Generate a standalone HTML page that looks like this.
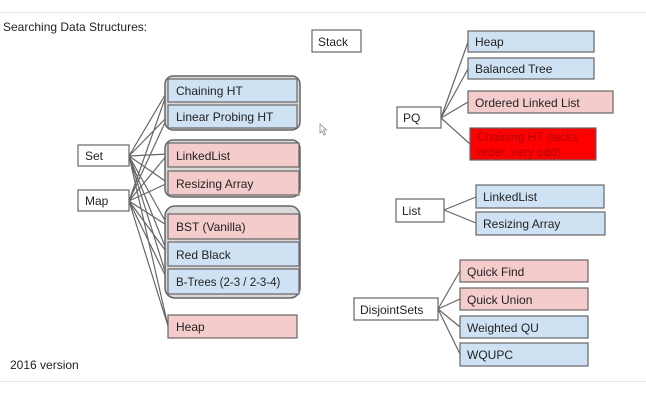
<!DOCTYPE html>
<html><head><meta charset="utf-8"><style>
body{margin:0;background:#fff;}
svg{display:block;font-family:"Liberation Sans",Arial,sans-serif;}
</style></head><body>
<svg width="646" height="401" viewBox="0 0 646 401">
<line x1="0" y1="12.5" x2="646" y2="12.5" stroke="#e6e6e6"/>
<line x1="0" y1="381.5" x2="646" y2="381.5" stroke="#e6e6e6"/>
<text x="3" y="31" font-size="12" fill="#222">Searching Data Structures:</text>
<text x="10" y="369" font-size="12" fill="#222">2016 version</text>

<g stroke="#666" stroke-width="1.2" fill="none">
<!-- Set/Map lines -->
<path d="M129,156L168,90M129,156L168,116M129,156L168,154M129,156L168,183M129,156L168,226M129,156L168,254M129,156L168,281M129,156L168,326
M129,201L168,90M129,201L168,116M129,201L168,154M129,201L168,183M129,201L168,226M129,201L168,254M129,201L168,281M129,201L168,326"/>
<!-- PQ -->
<path d="M441,118L468,42M441,118L468,69M441,118L468,102M441,118L470,144"/>
<!-- List -->
<path d="M444,210L476,197M444,210L476,223"/>
<!-- Disjoint -->
<path d="M438,309L460,271M438,309L460,299M438,309L460,327M438,309L460,354"/>
</g>

<g stroke="#666" stroke-width="1.5" fill="#d9d9d9">
<rect x="165" y="76" width="135" height="54" rx="8"/>
<rect x="165" y="140" width="135" height="57" rx="8"/>
<rect x="165" y="206" width="135" height="92" rx="10"/>
</g>

<g stroke="#666" stroke-width="1.2" font-size="12">
<rect x="168" y="79" width="129" height="23" fill="#cfe2f3"/>
<rect x="168" y="105" width="129" height="23" fill="#cfe2f3"/>
<rect x="168" y="143" width="131" height="24" fill="#f4cccc"/>
<rect x="168" y="171" width="131" height="24" fill="#f4cccc"/>
<rect x="168" y="214" width="131" height="25" fill="#f4cccc"/>
<rect x="168" y="242" width="131" height="24" fill="#cfe2f3"/>
<rect x="168" y="269" width="131" height="25" fill="#cfe2f3"/>
<rect x="168" y="315" width="129" height="23" fill="#f4cccc"/>
<rect x="78" y="145" width="51" height="21" fill="#fff"/>
<rect x="78" y="190" width="51" height="21" fill="#fff"/>
<rect x="312" y="30" width="49" height="22" fill="#fff"/>
<rect x="397" y="107" width="44" height="21" fill="#fff"/>
<rect x="468" y="31" width="126" height="21" fill="#cfe2f3"/>
<rect x="468" y="58" width="126" height="21" fill="#cfe2f3"/>
<rect x="468" y="91" width="145" height="22" fill="#f4cccc"/>
<rect x="470" y="128" width="126" height="32" fill="#ff0000"/>
<rect x="396" y="199" width="48" height="23" fill="#fff"/>
<rect x="476" y="185" width="128" height="23" fill="#cfe2f3"/>
<rect x="476" y="212" width="129" height="23" fill="#cfe2f3"/>
<rect x="354" y="298" width="84" height="22" fill="#fff"/>
<rect x="460" y="260" width="128" height="22" fill="#f4cccc"/>
<rect x="460" y="288" width="128" height="22" fill="#f4cccc"/>
<rect x="460" y="316" width="128" height="22" fill="#cfe2f3"/>
<rect x="460" y="343" width="128" height="23" fill="#cfe2f3"/>
</g>

<g font-size="12" fill="#222">
<text x="176" y="95">Chaining HT</text>
<text x="176" y="121">Linear Probing HT</text>
<text x="176" y="160">LinkedList</text>
<text x="176" y="188">Resizing Array</text>
<text x="176" y="231">BST (Vanilla)</text>
<text x="176" y="259">Red Black</text>
<text x="176" y="286" font-size="11.5">B-Trees (2-3 / 2-3-4)</text>
<text x="176" y="331">Heap</text>
<text x="85" y="160">Set</text>
<text x="85" y="205">Map</text>
<text x="318" y="46">Stack</text>
<text x="403" y="122">PQ</text>
<text x="475" y="46">Heap</text>
<text x="475" y="73">Balanced Tree</text>
<text x="475" y="107">Ordered Linked List</text>
<text x="477" y="141" fill="#b00000">Chaining HT (lacks</text>
<text x="477" y="156" fill="#b00000">order, very odd)</text>
<text x="402" y="215">List</text>
<text x="483" y="201">LinkedList</text>
<text x="483" y="228">Resizing Array</text>
<text x="360" y="314">DisjointSets</text>
<text x="467" y="276">Quick Find</text>
<text x="467" y="304">Quick Union</text>
<text x="467" y="332">Weighted QU</text>
<text x="467" y="359">WQUPC</text>
</g>
<path d="M320,124l0,9l2,-2l2,4l1.5,-1l-2,-4l3,0z" fill="#fff" stroke="#888" stroke-width="0.8"/>
</svg>
</body></html>
